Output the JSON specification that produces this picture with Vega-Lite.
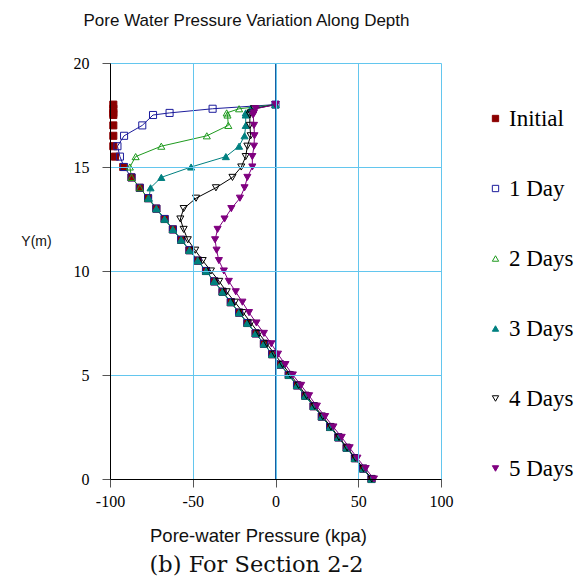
{
  "$schema": "https://vega.github.io/schema/vega-lite/v6.json",
  "width": 331,
  "height": 416,
  "autosize": {"type": "none"},
  "padding": {"left": 110, "top": 63, "right": 137, "bottom": 103},
  "background": "white",
  "title": {"text": "(b) For Section 2-2", "orient": "bottom", "anchor": "middle", "dx": -19, "offset": 9, "font": "DejaVu Serif", "fontSize": 22.5, "fontWeight": "normal", "color": "#111111"},
  "config": {"view": {"stroke": null}},
  "datasets": {
    "pw": [
      {"s":"Initial","y":18,"p":-98},{"s":"Initial","y":17.8,"p":-98},{"s":"Initial","y":17.6,"p":-98},{"s":"Initial","y":17.5,"p":-98},{"s":"Initial","y":17,"p":-98},{"s":"Initial","y":16.5,"p":-98},{"s":"Initial","y":16,"p":-98},{"s":"Initial","y":15.5,"p":-97},{"s":"Initial","y":15,"p":-92},{"s":"Initial","y":14.5,"p":-87},{"s":"Initial","y":14,"p":-82},{"s":"Initial","y":13.5,"p":-77},{"s":"Initial","y":13,"p":-72},{"s":"Initial","y":12.5,"p":-67},{"s":"Initial","y":12,"p":-62},{"s":"Initial","y":11.5,"p":-57},{"s":"Initial","y":11,"p":-52},{"s":"Initial","y":10.5,"p":-47},{"s":"Initial","y":10,"p":-42},{"s":"Initial","y":9.5,"p":-37},{"s":"Initial","y":9,"p":-32},{"s":"Initial","y":8.5,"p":-27},{"s":"Initial","y":8,"p":-22},{"s":"Initial","y":7.5,"p":-17},{"s":"Initial","y":7,"p":-12},{"s":"Initial","y":6.5,"p":-7},{"s":"Initial","y":6,"p":-2},{"s":"Initial","y":5.5,"p":3},{"s":"Initial","y":5,"p":8},{"s":"Initial","y":4.5,"p":13},{"s":"Initial","y":4,"p":18},{"s":"Initial","y":3.5,"p":23},{"s":"Initial","y":3,"p":28},{"s":"Initial","y":2.5,"p":33},{"s":"Initial","y":2,"p":38},{"s":"Initial","y":1.5,"p":43},{"s":"Initial","y":1,"p":48},{"s":"Initial","y":0.5,"p":53},{"s":"Initial","y":0,"p":58},
      {"s":"1 Day","y":18,"p":0},{"s":"1 Day","y":17.8,"p":-38},{"s":"1 Day","y":17.6,"p":-64},{"s":"1 Day","y":17.5,"p":-74},{"s":"1 Day","y":17,"p":-80.5},{"s":"1 Day","y":16.5,"p":-91.5},{"s":"1 Day","y":16,"p":-95.5},{"s":"1 Day","y":15.5,"p":-94},{"s":"1 Day","y":15,"p":-91.5},{"s":"1 Day","y":14.5,"p":-87},{"s":"1 Day","y":14,"p":-82},{"s":"1 Day","y":13.5,"p":-77},{"s":"1 Day","y":13,"p":-72},{"s":"1 Day","y":12.5,"p":-67},{"s":"1 Day","y":12,"p":-62},{"s":"1 Day","y":11.5,"p":-57},{"s":"1 Day","y":11,"p":-52},{"s":"1 Day","y":10.5,"p":-47},{"s":"1 Day","y":10,"p":-42},{"s":"1 Day","y":9.5,"p":-37},{"s":"1 Day","y":9,"p":-32},{"s":"1 Day","y":8.5,"p":-27},{"s":"1 Day","y":8,"p":-22},{"s":"1 Day","y":7.5,"p":-17},{"s":"1 Day","y":7,"p":-12},{"s":"1 Day","y":6.5,"p":-7},{"s":"1 Day","y":6,"p":-2},{"s":"1 Day","y":5.5,"p":3},{"s":"1 Day","y":5,"p":8},{"s":"1 Day","y":4.5,"p":13},{"s":"1 Day","y":4,"p":18},{"s":"1 Day","y":3.5,"p":23},{"s":"1 Day","y":3,"p":28},{"s":"1 Day","y":2.5,"p":33},{"s":"1 Day","y":2,"p":38},{"s":"1 Day","y":1.5,"p":43},{"s":"1 Day","y":1,"p":48},{"s":"1 Day","y":0.5,"p":53},{"s":"1 Day","y":0,"p":58},
      {"s":"2 Days","y":18,"p":0},{"s":"2 Days","y":17.8,"p":-22},{"s":"2 Days","y":17.6,"p":-29.5},{"s":"2 Days","y":17.5,"p":-29},{"s":"2 Days","y":17,"p":-28.5},{"s":"2 Days","y":16.5,"p":-41.5},{"s":"2 Days","y":16,"p":-69},{"s":"2 Days","y":15.5,"p":-84.5},{"s":"2 Days","y":15,"p":-88},{"s":"2 Days","y":14.5,"p":-87},{"s":"2 Days","y":14,"p":-82},{"s":"2 Days","y":13.5,"p":-77},{"s":"2 Days","y":13,"p":-72},{"s":"2 Days","y":12.5,"p":-67},{"s":"2 Days","y":12,"p":-62},{"s":"2 Days","y":11.5,"p":-57},{"s":"2 Days","y":11,"p":-52},{"s":"2 Days","y":10.5,"p":-47},{"s":"2 Days","y":10,"p":-42},{"s":"2 Days","y":9.5,"p":-37},{"s":"2 Days","y":9,"p":-32},{"s":"2 Days","y":8.5,"p":-27},{"s":"2 Days","y":8,"p":-22},{"s":"2 Days","y":7.5,"p":-17},{"s":"2 Days","y":7,"p":-12},{"s":"2 Days","y":6.5,"p":-7},{"s":"2 Days","y":6,"p":-2},{"s":"2 Days","y":5.5,"p":3},{"s":"2 Days","y":5,"p":8},{"s":"2 Days","y":4.5,"p":13},{"s":"2 Days","y":4,"p":18},{"s":"2 Days","y":3.5,"p":23},{"s":"2 Days","y":3,"p":28},{"s":"2 Days","y":2.5,"p":33},{"s":"2 Days","y":2,"p":38},{"s":"2 Days","y":1.5,"p":43},{"s":"2 Days","y":1,"p":48},{"s":"2 Days","y":0.5,"p":53},{"s":"2 Days","y":0,"p":58},
      {"s":"3 Days","y":18,"p":0},{"s":"3 Days","y":17.8,"p":-15},{"s":"3 Days","y":17.6,"p":-18},{"s":"3 Days","y":17.5,"p":-18},{"s":"3 Days","y":17,"p":-18},{"s":"3 Days","y":16.5,"p":-18.7},{"s":"3 Days","y":16,"p":-22},{"s":"3 Days","y":15.5,"p":-30},{"s":"3 Days","y":15,"p":-51},{"s":"3 Days","y":14.5,"p":-69},{"s":"3 Days","y":14,"p":-75.5},{"s":"3 Days","y":13.5,"p":-76.5},{"s":"3 Days","y":13,"p":-72},{"s":"3 Days","y":12.5,"p":-67},{"s":"3 Days","y":12,"p":-62},{"s":"3 Days","y":11.5,"p":-57},{"s":"3 Days","y":11,"p":-52},{"s":"3 Days","y":10.5,"p":-47},{"s":"3 Days","y":10,"p":-42},{"s":"3 Days","y":9.5,"p":-37},{"s":"3 Days","y":9,"p":-32},{"s":"3 Days","y":8.5,"p":-27},{"s":"3 Days","y":8,"p":-22},{"s":"3 Days","y":7.5,"p":-17},{"s":"3 Days","y":7,"p":-12},{"s":"3 Days","y":6.5,"p":-7},{"s":"3 Days","y":6,"p":-2},{"s":"3 Days","y":5.5,"p":3},{"s":"3 Days","y":5,"p":8},{"s":"3 Days","y":4.5,"p":13},{"s":"3 Days","y":4,"p":18},{"s":"3 Days","y":3.5,"p":23},{"s":"3 Days","y":3,"p":28},{"s":"3 Days","y":2.5,"p":33},{"s":"3 Days","y":2,"p":38},{"s":"3 Days","y":1.5,"p":43},{"s":"3 Days","y":1,"p":48},{"s":"3 Days","y":0.5,"p":53},{"s":"3 Days","y":0,"p":58},
      {"s":"4 Days","y":18,"p":0},{"s":"4 Days","y":17.8,"p":-13},{"s":"4 Days","y":17.6,"p":-15},{"s":"4 Days","y":17.5,"p":-15.5},{"s":"4 Days","y":17,"p":-15.5},{"s":"4 Days","y":16.5,"p":-15},{"s":"4 Days","y":16,"p":-17},{"s":"4 Days","y":15.5,"p":-18},{"s":"4 Days","y":15,"p":-20.7},{"s":"4 Days","y":14.5,"p":-26},{"s":"4 Days","y":14,"p":-36},{"s":"4 Days","y":13.5,"p":-48},{"s":"4 Days","y":13,"p":-55.5},{"s":"4 Days","y":12.5,"p":-57.5},{"s":"4 Days","y":12,"p":-55.5},{"s":"4 Days","y":11.5,"p":-53},{"s":"4 Days","y":11,"p":-48.5},{"s":"4 Days","y":10.5,"p":-44},{"s":"4 Days","y":10,"p":-39},{"s":"4 Days","y":9.5,"p":-34},{"s":"4 Days","y":9,"p":-29.5},{"s":"4 Days","y":8.5,"p":-24.5},{"s":"4 Days","y":8,"p":-19.5},{"s":"4 Days","y":7.5,"p":-14.8},{"s":"4 Days","y":7,"p":-10},{"s":"4 Days","y":6.5,"p":-5.2},{"s":"4 Days","y":6,"p":-0.5},{"s":"4 Days","y":5.5,"p":4.3},{"s":"4 Days","y":5,"p":9.1},{"s":"4 Days","y":4.5,"p":14},{"s":"4 Days","y":4,"p":18.8},{"s":"4 Days","y":3.5,"p":23.7},{"s":"4 Days","y":3,"p":28.6},{"s":"4 Days","y":2.5,"p":33.5},{"s":"4 Days","y":2,"p":38.4},{"s":"4 Days","y":1.5,"p":43.3},{"s":"4 Days","y":1,"p":48.3},{"s":"4 Days","y":0.5,"p":53.2},{"s":"4 Days","y":0,"p":58.2},
      {"s":"5 Days","y":18,"p":0},{"s":"5 Days","y":17.8,"p":-12},{"s":"5 Days","y":17.6,"p":-13},{"s":"5 Days","y":17.5,"p":-13.5},{"s":"5 Days","y":17,"p":-13},{"s":"5 Days","y":16.5,"p":-12.7},{"s":"5 Days","y":16,"p":-13},{"s":"5 Days","y":15.5,"p":-14},{"s":"5 Days","y":15,"p":-14},{"s":"5 Days","y":14.5,"p":-17},{"s":"5 Days","y":14,"p":-18.7},{"s":"5 Days","y":13.5,"p":-21.5},{"s":"5 Days","y":13,"p":-26.7},{"s":"5 Days","y":12.5,"p":-30.8},{"s":"5 Days","y":12,"p":-35},{"s":"5 Days","y":11.5,"p":-36.5},{"s":"5 Days","y":11,"p":-35.6},{"s":"5 Days","y":10.5,"p":-34.2},{"s":"5 Days","y":10,"p":-31.2},{"s":"5 Days","y":9.5,"p":-28.2},{"s":"5 Days","y":9,"p":-24},{"s":"5 Days","y":8.5,"p":-20},{"s":"5 Days","y":8,"p":-16},{"s":"5 Days","y":7.5,"p":-11.5},{"s":"5 Days","y":7,"p":-7},{"s":"5 Days","y":6.5,"p":-2.5},{"s":"5 Days","y":6,"p":1.5},{"s":"5 Days","y":5.5,"p":6},{"s":"5 Days","y":5,"p":10.5},{"s":"5 Days","y":4.5,"p":15.5},{"s":"5 Days","y":4,"p":20.3},{"s":"5 Days","y":3.5,"p":25},{"s":"5 Days","y":3,"p":30},{"s":"5 Days","y":2.5,"p":35},{"s":"5 Days","y":2,"p":40},{"s":"5 Days","y":1.5,"p":44.8},{"s":"5 Days","y":1,"p":49.5},{"s":"5 Days","y":0.5,"p":54.5},{"s":"5 Days","y":0,"p":59.5}
    ]
  },
  "data": {"name": "pw"},
  "resolve": {"axis": {"x": "independent"}},
  "layer": [
    {
      "mark": {"type": "rule", "color": "#1A5EA0", "strokeWidth": 1},
      "encoding": {
        "x": {"datum": 0, "type": "quantitative", "scale": {"domain": [-100, 100], "nice": false, "zero": false},
          "axis": {"orient": "top", "labels": false, "ticks": false, "domain": false, "grid": false,
            "title": "Pore Water Pressure Variation Along Depth", "titleFont": "Liberation Sans", "titleFontSize": 17, "titleFontWeight": "normal", "titleColor": "#111111",
            "titleX": 136, "titleY": -38, "titleBaseline": "alphabetic", "titleAlign": "center"}}
      }
    },
    {
      "layer": [
        {
          "transform": [{"filter": "datum.s !== 'Initial'"}],
          "mark": {"type": "line", "strokeWidth": 1},
          "encoding": {
            "x": {"field": "p", "type": "quantitative"},
            "y": {"field": "y", "type": "quantitative"},
            "order": {"field": "y", "type": "quantitative"},
            "stroke": {"field": "s", "type": "nominal"}
          }
        },
        {
          "mark": {"type": "point", "filled": true, "strokeWidth": 1, "opacity": 1},
          "encoding": {
            "x": {"field": "p", "type": "quantitative", "scale": {"domain": [-100, 100], "nice": false, "zero": false},
              "axis": {"values": [-100, -50, 0, 50, 100], "zindex": 1, "grid": true, "gridColor": "#63C6EE", "gridWidth": 1, "domainColor": "#000000", "domainWidth": 1,
                "tickColor": "#555555", "tickSize": 8, "labelPadding": 6, "labelFlush": false, "labelDx": -4, "labelFont": "Liberation Serif", "labelFontSize": 16, "labelColor": "#000000",
                "labelExpr": "datum.value < 0 ? '-' + abs(datum.value) : '' + datum.value",
                "title": "Pore-water Pressure (kpa)", "titleFont": "Liberation Sans", "titleFontSize": 18.5, "titleFontWeight": "normal", "titleColor": "#111111",
                "titleX": 148, "titleY": 62, "titleBaseline": "alphabetic", "titleAlign": "center"}},
            "y": {"field": "y", "type": "quantitative", "scale": {"domain": [0, 20], "nice": false},
              "axis": {"values": [0, 5, 10, 15, 20], "zindex": 1, "grid": true, "gridColor": "#63C6EE", "gridWidth": 1, "domainColor": "#000000", "domainWidth": 1,
                "tickColor": "#555555", "tickSize": 8, "labelPadding": 13, "labelFont": "Liberation Serif", "labelFontSize": 16, "labelColor": "#000000",
                "title": "Y(m)", "titleFont": "Liberation Sans", "titleFontSize": 14, "titleFontWeight": "normal", "titleColor": "#111111", "titleAngle": 0,
                "titleX": -74, "titleY": 178, "titleAlign": "center", "titleBaseline": "middle"}},
            "shape": {"field": "s", "type": "nominal",
              "scale": {"domain": ["Initial", "1 Day", "2 Days", "3 Days", "4 Days", "5 Days"], "range": ["square", "square", "triangle-up", "triangle-up", "triangle-down", "triangle-down"]},
              "legend": {"title": null, "orient": "none", "legendX": 374, "legendY": 44, "padding": 0, "rowPadding": 46, "labelFont": "Liberation Serif", "labelFontSize": 23, "labelColor": "#000000", "labelOffset": 2, "symbolSize": 40, "symbolStrokeWidth": 1}},
            "stroke": {"field": "s", "type": "nominal",
              "scale": {"domain": ["Initial", "1 Day", "2 Days", "3 Days", "4 Days", "5 Days"], "range": ["#8B0000", "#1C1C9C", "#1E9A1E", "#008080", "#000000", "#800080"]}},
            "fill": {"field": "s", "type": "nominal",
              "scale": {"domain": ["Initial", "1 Day", "2 Days", "3 Days", "4 Days", "5 Days"], "range": ["#8B0000", "transparent", "transparent", "#008080", "transparent", "#800080"]}},
            "size": {"value": 50}
          }
        }
      ]
    }
  ]
}
